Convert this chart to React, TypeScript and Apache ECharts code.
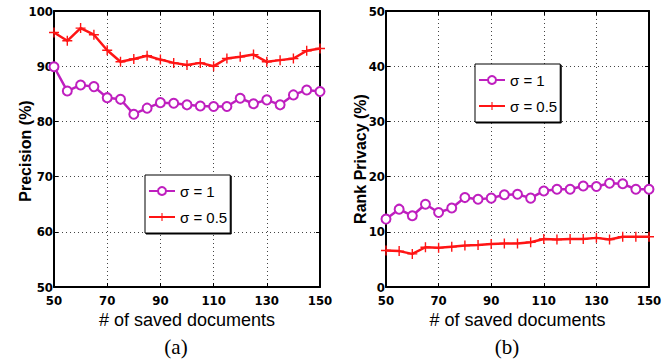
import React, { useEffect, useRef } from "react";
import * as echarts from "echarts";

const docs = [50, 55, 60, 65, 70, 75, 80, 85, 90, 95, 100, 105, 110, 115, 120, 125, 130, 135, 140, 145, 150];
const precisionSigma1 = [89.9, 85.5, 86.6, 86.3, 84.3, 84.0, 81.3, 82.4, 83.4, 83.3, 83.0, 82.8, 82.7, 82.7, 84.2, 83.2, 83.9, 83.0, 84.8, 85.7, 85.4];
const precisionSigma05 = [96.1, 94.6, 96.9, 95.7, 92.9, 90.8, 91.3, 91.9, 91.2, 90.6, 90.2, 90.6, 90.0, 91.4, 91.7, 92.1, 90.8, 91.1, 91.4, 92.8, 93.2];
const privacySigma1 = [12.3, 14.1, 12.9, 15.0, 13.5, 14.3, 16.2, 15.9, 16.1, 16.7, 16.8, 16.1, 17.4, 17.7, 17.7, 18.3, 18.2, 18.8, 18.7, 17.7, 17.7];
const privacySigma05 = [6.6, 6.5, 6.0, 7.2, 7.1, 7.3, 7.5, 7.6, 7.8, 7.9, 7.9, 8.1, 8.7, 8.6, 8.7, 8.7, 8.9, 8.6, 9.1, 9.1, 9.1];
const seriesNames = ["σ = 1", "σ = 0.5"];
const yTitles = ["Precision (%)", "Rank Privacy (%)"];
const xTitle = "# of saved documents";
const panelLabels = ["(a)", "(b)"];

const PURPLE = "#bf1fbf";
const RED = "#ff1414";
const PLUS =
  "path://M-1,-0.14 L-0.14,-0.14 L-0.14,-1 L0.14,-1 L0.14,-0.14 L1,-0.14 L1,0.14 L0.14,0.14 L0.14,1 L-0.14,1 L-0.14,0.14 L-1,0.14 Z";
const TICK_FONT = "'Liberation Sans Narrow', 'DejaVu Sans Condensed', 'Liberation Sans', Arial, sans-serif";
const SANS = "'Liberation Sans', Arial, sans-serif";

const zip = (xs: number[], ys: number[]) => xs.map((x, i) => [x, ys[i]]);

export default function App() {
  const ref = useRef<HTMLDivElement>(null);
  useEffect(() => {
    if (!ref.current) return;
    const chart = echarts.init(ref.current, undefined, { renderer: "svg" });
    const grids = [
      { left: 54, top: 11, width: 266, height: 276 },
      { left: 386, top: 11, width: 263, height: 276 },
    ];
    const gridLine = { show: true, lineStyle: { color: "#444", type: [1, 3], width: 1 } };
    const axisLine = { show: true, onZero: false, lineStyle: { color: "#000", width: 2 } };
    const tick = { show: true, inside: true, length: 4, lineStyle: { color: "#000", width: 1 } };
    const xAxes: any[] = [];
    const yAxes: any[] = [];
    [0, 1].forEach((g) => {
      xAxes.push({
        type: "value", gridIndex: g, min: 50, max: 150, interval: 20, position: "bottom",
        axisLine, axisTick: tick, splitLine: gridLine,
        axisLabel: { color: "#000", fontFamily: TICK_FONT, fontWeight: "bold", fontSize: 13, margin: 7 },
        name: xTitle, nameLocation: "middle", nameGap: 24, nameMoveOverlap: false,
        nameTextStyle: { color: "#000", fontFamily: SANS, fontSize: 18 },
      });
    });
    [0, 1].forEach((g) => {
      xAxes.push({
        type: "value", gridIndex: g, min: 50, max: 150, interval: 20, position: "top",
        axisLine, axisTick: tick, splitLine: { show: false }, axisLabel: { show: false },
      });
    });
    const yRanges = [[50, 100], [0, 50]];
    const yTitlePad = [[0, 4, 0, 0], [0, 20, 0, 0]];
    const yTitleGap = [21, 18];
    [0, 1].forEach((g) => {
      yAxes.push({
        type: "value", gridIndex: g, min: yRanges[g][0], max: yRanges[g][1], interval: 10, position: "left",
        axisLine, axisTick: tick, splitLine: gridLine,
        axisLabel: { color: "#000", fontFamily: TICK_FONT, fontWeight: "bold", fontSize: 13, margin: 1 },
        name: yTitles[g], nameLocation: "middle", nameGap: yTitleGap[g], nameMoveOverlap: false,
        nameTextStyle: { color: "#000", fontFamily: SANS, fontSize: 16, fontWeight: "bold", padding: yTitlePad[g] },
      });
    });
    [0, 1].forEach((g) => {
      yAxes.push({
        type: "value", gridIndex: g, min: yRanges[g][0], max: yRanges[g][1], interval: 10, position: "right",
        axisLine, axisTick: tick, splitLine: { show: false }, axisLabel: { show: false },
      });
    });
    const mkSeries = (g: number, name: string, data: number[], color: string, purple: boolean) => ({
      type: "line", name, xAxisIndex: g, yAxisIndex: g,
      data: zip(docs, data),
      symbol: purple ? "emptyCircle" : PLUS,
      symbolSize: purple ? 9 : 10,
      showAllSymbol: true,
      lineStyle: { color, width: 2.5 },
      itemStyle: purple ? { color, borderColor: color, borderWidth: 2 } : { color },
      z: purple ? 3 : 2,
    });
    const legendBase = {
      orient: "vertical", data: seriesNames,
      itemWidth: 26, itemHeight: 10, itemGap: 10,
      padding: [8, 3, 8, 3],
      backgroundColor: "#fff", borderColor: "#000", borderWidth: 1,
      shadowColor: "#000", shadowOffsetX: 1, shadowOffsetY: 1, shadowBlur: 0,
      textStyle: { color: "#000", fontFamily: SANS, fontSize: 15, lineHeight: 16 },
    };
    chart.setOption({
      animation: false,
      grid: grids,
      xAxis: xAxes,
      yAxis: yAxes,
      legend: [
        { ...legendBase, left: 145, top: 175 },
        { ...legendBase, left: 475, top: 64 },
      ],
      series: [
        mkSeries(0, seriesNames[0], precisionSigma1, PURPLE, true),
        mkSeries(0, seriesNames[1], precisionSigma05, RED, false),
        mkSeries(1, seriesNames[0], privacySigma1, PURPLE, true),
        mkSeries(1, seriesNames[1], privacySigma05, RED, false),
      ],
      graphic: [
        { type: "text", x: 176, y: 347, style: { text: panelLabels[0], font: "21px 'Liberation Serif', serif", fill: "#000", align: "center", verticalAlign: "middle" } },
        { type: "text", x: 507, y: 347, style: { text: panelLabels[1], font: "21px 'Liberation Serif', serif", fill: "#000", align: "center", verticalAlign: "middle" } },
      ],
    });
    return () => chart.dispose();
  }, []);
  return <div ref={ref} style={{ position: "fixed", left: 0, top: 0, width: 668, height: 364, background: "#fff" }} />;
}
